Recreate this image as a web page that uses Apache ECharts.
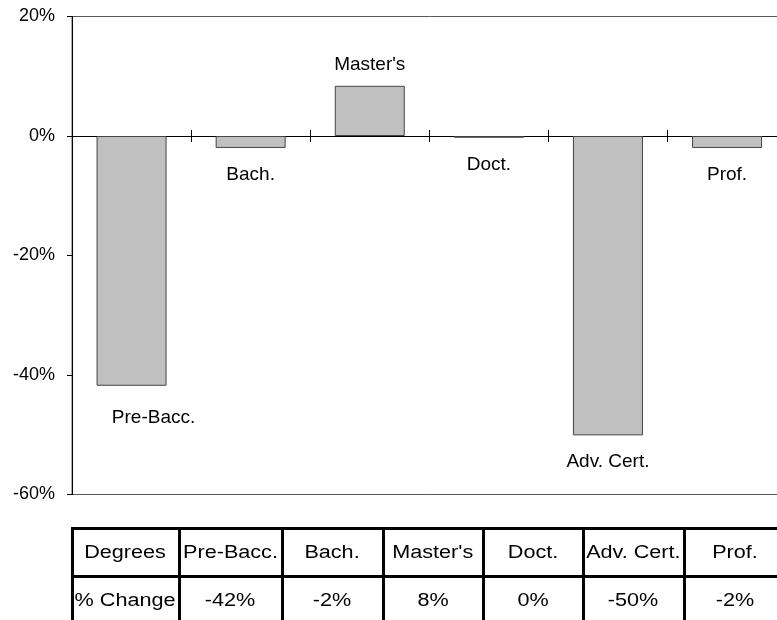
<!DOCTYPE html>
<html>
<head>
<meta charset="utf-8">
<script src="https://cdn.jsdelivr.net/npm/echarts@6/dist/echarts.min.js"></script>
<style>
  html, body { margin: 0; padding: 0; background: #fff; }
  #wrap { position: relative; width: 777px; height: 620px; overflow: hidden; }
  #chart { position: absolute; left: 0; top: 0; width: 820px; height: 620px; }
  .cell { position: absolute; box-sizing: border-box; border: 3px solid #000; display: flex; align-items: center; justify-content: center; font-family: 'Liberation Sans', Arial, sans-serif; font-size: 18px; color: #000; white-space: nowrap; }
  .cell span { display: inline-block; transform: scaleX(1.2); }
</style>
</head>
<body>
<div id="wrap">
  <div id="chart"></div>
  <div id="table"></div>
</div>
<script>
// ---- data ----
const categories = ["Pre-Bacc.", "Bach.", "Master's", "Doct.", "Adv. Cert.", "Prof."];
const pctChange = [-41.8, -2.0, 8.4, -0.3, -50.1, -2.0];
const tableHeader = ["Degrees", "Pre-Bacc.", "Bach.", "Master's", "Doct.", "Adv. Cert.", "Prof."];
const tableRow = ["% Change", "-42%", "-2%", "8%", "0%", "-50%", "-2%"];
const yTicks = { min: -60, max: 20, interval: 20 };

// ---- chart ----
const chart = echarts.init(document.getElementById('chart'), null, { renderer: 'canvas' });
const font = "'Liberation Sans', Arial, sans-serif";
const seriesData = pctChange.map((v, i) => ({
  value: v,
  label: {
    position: v >= 0 ? 'top' : 'bottom',
    distance: v >= 0 ? 12 : 17,
    offset: i === 0 ? [22, 6] : [0, 0]
  }
}));
const gridBox = { left: 72, top: 16.5, height: 478, width: 714.6 };
const xCommon = {
  type: 'category',
  data: categories,
  boundaryGap: true,
  axisLabel: { show: false },
  splitLine: { show: false }
};
chart.setOption({
  animation: false,
  grid: [
    Object.assign({ show: true, borderColor: '#5a5a5a', borderWidth: 1, backgroundColor: 'transparent' }, gridBox),
    Object.assign({ show: false }, gridBox)
  ],
  xAxis: [
    Object.assign({}, xCommon, {
      gridIndex: 0, position: 'bottom',
      axisLine: { onZero: true, lineStyle: { color: '#000', width: 1 } },
      axisTick: { show: true, interval: 0, length: 6, lineStyle: { color: '#000', width: 1 } }
    }),
    Object.assign({}, xCommon, {
      gridIndex: 1, position: 'bottom',
      axisLine: { show: false, onZero: true },
      axisTick: { show: true, inside: true, interval: 0, length: 6, lineStyle: { color: '#000', width: 1 } }
    })
  ],
  yAxis: [
    {
      type: 'value', gridIndex: 0,
      min: yTicks.min, max: yTicks.max, interval: yTicks.interval,
      axisLine: { show: true, lineStyle: { color: '#000', width: 1 } },
      axisTick: { show: true, length: 5, lineStyle: { color: '#000' } },
      axisLabel: { formatter: '{value}%', color: '#000', fontFamily: font, fontSize: 18, margin: 17 },
      splitLine: { show: false }
    },
    {
      type: 'value', gridIndex: 1,
      min: yTicks.min, max: yTicks.max, interval: yTicks.interval,
      axisLine: { show: false }, axisTick: { show: false }, axisLabel: { show: false },
      splitLine: { show: false }
    }
  ],
  series: [{
    type: 'bar',
    xAxisIndex: 0, yAxisIndex: 0,
    data: seriesData,
    barWidth: 70,
    itemStyle: { color: '#c0c0c0', borderColor: '#444', borderWidth: 1 },
    label: {
      show: true,
      formatter: '{b}',
      color: '#000',
      fontFamily: font,
      fontSize: 19
    }
  }]
});

// ---- table ----
const colEdges = [72, 179, 282, 383, 483, 583, 684, 786];
const rowEdges = [528, 576, 624];
const tbl = document.getElementById('table');
[tableHeader, tableRow].forEach((row, r) => {
  row.forEach((txt, c) => {
    const d = document.createElement('div');
    d.className = 'cell';
    d.style.left = (colEdges[c] - 1.5) + 'px';
    d.style.top = (rowEdges[r] - 1.5) + 'px';
    d.style.width = (colEdges[c + 1] - colEdges[c] + 3) + 'px';
    d.style.height = (rowEdges[r + 1] - rowEdges[r] + 3) + 'px';
    const s = document.createElement('span');
    s.textContent = txt;
    d.appendChild(s);
    tbl.appendChild(d);
  });
});
</script>
</body>
</html>
